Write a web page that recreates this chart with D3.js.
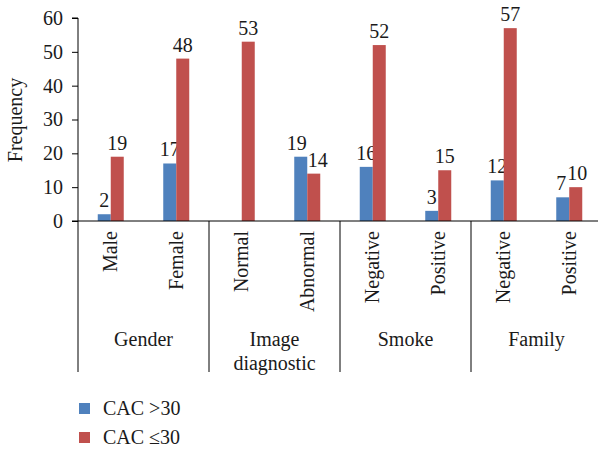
<!DOCTYPE html>
<html><head><meta charset="utf-8">
<script src="https://cdn.jsdelivr.net/npm/d3@7"></script>
<style>body{margin:0;background:#fff}svg{display:block}</style>
</head><body>
<svg id="c" width="598" height="450"></svg>
<script>
const groups = ["Gender", "Image\ndiagnostic", "Smoke", "Family"];
const categories = ["Male", "Female", "Normal", "Abnormal", "Negative", "Positive", "Negative", "Positive"];
const seriesNames = ["CAC >30", "CAC \u226430"];
const cacAbove30 = [2, 17, null, 19, 16, 3, 12, 7];
const cacBelow30 = [19, 48, 53, 14, 52, 15, 57, 10];
const yTicks = [0, 10, 20, 30, 40, 50, 60];
const colors = ["#4F81BD", "#C0504D"];

(function () {
const FONT = "'Liberation Serif', 'Times New Roman', 'DejaVu Serif', serif";
const svg = d3.select("#c").style("font-family", FONT);
const mLeft = 78, mRight = 602, mTop = 18, mBottom = 221;
const fs = 20;
const x = d3.scaleBand().domain(d3.range(categories.length)).range([mLeft, mRight]).padding(0);
const y = d3.scaleLinear().domain([0, 60]).range([mBottom, mTop]);
const bw = 13;
const series = [cacAbove30, cacBelow30];
const txt = (sel) => sel.style("font-family", FONT).attr("font-size", fs).attr("fill", "#1a1a1a");
const labels = [[], []];

series.forEach((vals, si) => {
  const g = svg.append("g");
  vals.forEach((v, i) => {
    if (v == null) { labels[si][i] = null; return; }
    const cx = x(i) + x.bandwidth() / 2;
    const bx = si === 0 ? cx - bw : cx;
    g.append("rect").attr("x", bx).attr("y", y(v)).attr("width", bw).attr("height", y(0) - y(v)).attr("fill", colors[si]);
    labels[si][i] = g.append("text").attr("x", bx + bw / 2).attr("y", y(v) - 7).attr("text-anchor", "middle").call(txt).text(v);
  });
});

// nudge colliding value labels apart
categories.forEach((c, i) => {
  const a = labels[0][i], b = labels[1][i];
  if (!a || !b) return;
  const ba = a.node().getBBox(), bb = b.node().getBBox();
  const vOverlap = ba.y < bb.y + bb.height - 5 && bb.y < ba.y + ba.height - 5;
  const hOverlap = ba.x + ba.width - bb.x;
  if (vOverlap && hOverlap > -1) {
    const d = (hOverlap + 1) / 2;
    a.attr("x", +a.attr("x") - d);
    b.attr("x", +b.attr("x") + d);
  }
});

const yAxis = d3.axisLeft(y).tickValues(yTicks).tickSize(6).tickPadding(9);
const ya = svg.append("g").attr("transform", `translate(${mLeft},0)`).call(yAxis);
ya.select(".domain").attr("stroke", "#000").attr("d", `M-6,${mTop}H0V${mBottom}`);
ya.selectAll(".tick line").attr("stroke", "#000");
ya.selectAll(".tick text").call(txt);

svg.append("line").attr("x1", mLeft - 6).attr("x2", 598).attr("y1", mBottom).attr("y2", mBottom).attr("stroke", "#000");

const sepBottom = 372;
d3.range(groups.length).forEach(k => {
  const bx = x(k * 2);
  svg.append("line").attr("x1", bx).attr("x2", bx).attr("y1", mBottom).attr("y2", sepBottom).attr("stroke", "#000");
});

categories.forEach((c, i) => {
  const cx = x(i) + x.bandwidth() / 2;
  svg.append("text").attr("transform", `translate(${cx},231) rotate(-90)`).attr("text-anchor", "end").attr("dy", "0.33em").call(txt).text(c);
});

groups.forEach((gname, k) => {
  const cx = x(k * 2) + x.bandwidth();
  const lines = gname.split("\n");
  const t = svg.append("text").attr("text-anchor", "middle").call(txt);
  lines.forEach((ln, j) => t.append("tspan").attr("x", cx).attr("y", 346 + j * 24).text(ln));
});

svg.append("text").attr("transform", "translate(22,120) rotate(-90)").attr("text-anchor", "middle").call(txt).text("Frequency");

seriesNames.forEach((n, i) => {
  const ly = 403 + i * 29;
  svg.append("rect").attr("x", 79).attr("y", ly).attr("width", 11).attr("height", 11).attr("fill", colors[i]);
  svg.append("text").attr("x", 103).attr("y", ly + 12).call(txt).text(n);
});
})();
</script>
</body></html>
